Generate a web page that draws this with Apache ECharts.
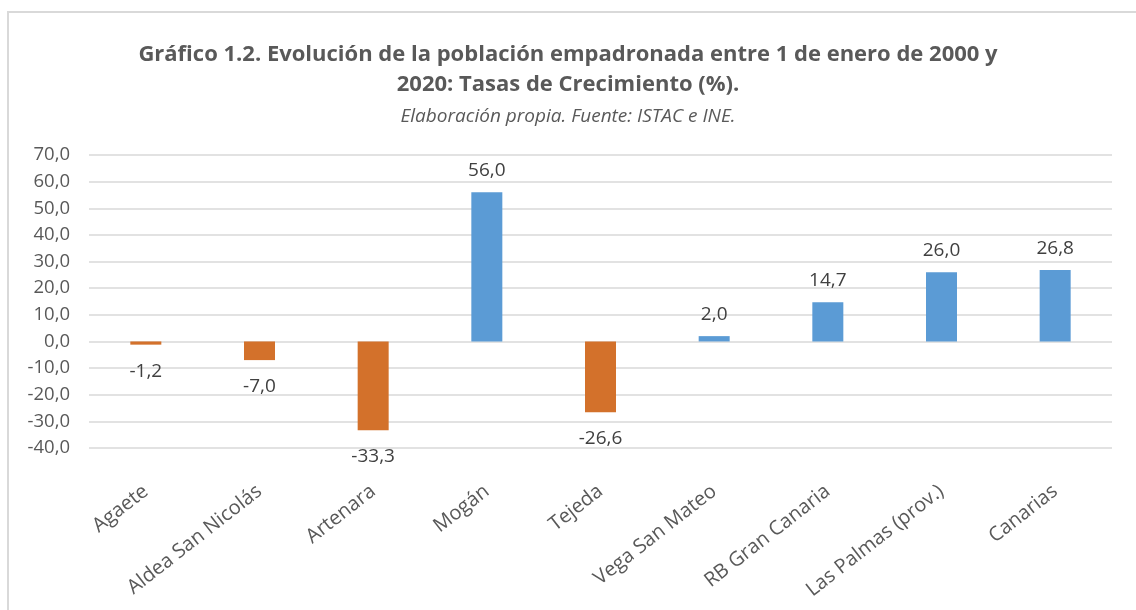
<!DOCTYPE html>
<html>
<head>
<meta charset="utf-8">
<script src="https://cdn.jsdelivr.net/npm/echarts@6/dist/echarts.min.js"></script>
<style>
  body { margin: 0; background: #fff; }
  #frame {
    position: absolute;
    left: 7px;
    top: 11px;
    right: 0;
    bottom: 0;
    border-left: 2px solid #d9d9d9;
    border-top: 2px solid #d9d9d9;
  }
  #chart {
    position: absolute;
    left: 0;
    top: 0;
    width: 1136px;
    height: 610px;
  }
</style>
</head>
<body>
<div id="frame"></div>
<div id="chart"></div>
<script>
const categories = ['Agaete', 'Aldea San Nicolás', 'Artenara', 'Mogán', 'Tejeda', 'Vega San Mateo', 'RB Gran Canaria', 'Las Palmas (prov.)', 'Canarias']
const growth = [-1.2, -7.0, -33.3, 56.0, -26.6, 2.0, 14.7, 26.0, 26.8]

const fmt = (v) => v.toFixed(1).replace('.', ',')

const chart = echarts.init(document.getElementById('chart'))
const option = {
  backgroundColor: 'transparent',
  textStyle: {
    fontFamily: 'Open Sans',
  },
  title: {
    text: 'Gráfico 1.2. Evolución de la población empadronada entre 1 de enero de 2000 y\n2020: Tasas de Crecimiento (%).',
    subtext: 'Elaboración propia. Fuente: ISTAC e INE.',
    left: 'center',
    top: 35,
    itemGap: 5,
    textStyle: {
      fontFamily: 'Open Sans',
      fontWeight: 'bold',
      fontSize: 22,
      lineHeight: 30,
      color: '#595959',
    },
    subtextStyle: {
      fontFamily: 'Open Sans',
      fontStyle: 'italic',
      fontSize: 19,
      lineHeight: 24,
      color: '#595959',
    },
  },
  grid: {
    left: 89,
    right: 24,
    top: 155,
    bottom: 162,
  },
  xAxis: {
    type: 'category',
    data: categories,
    axisLine: { show: false, onZero: false },
    axisTick: { show: false },
    axisLabel: {
      rotate: 38,
      margin: 41,
      interval: 0,
      fontSize: 20,
      color: '#595959',
    },
  },
  yAxis: {
    type: 'value',
    min: -40,
    max: 70,
    interval: 10,
    axisLine: { show: false },
    axisTick: { show: false },
    axisLabel: {
      margin: 19,
      fontSize: 18.5,
      color: '#595959',
      formatter: (v) => fmt(v),
    },
    splitLine: {
      lineStyle: { color: '#d9d9d9', width: 1.5 },
    },
  },
  series: [
    {
      type: 'bar',
      barWidth: 31,
      data: growth.map((v) => ({
        value: v,
        itemStyle: { color: v < 0 ? '#D3712B' : '#5B9BD5' },
        label: { position: v < 0 ? 'bottom' : 'top', distance: v < 0 ? 17 : 12 },
      })),
      label: {
        show: true,
        fontSize: 19,
        color: '#404040',
        formatter: (p) => fmt(p.value),
      },
    },
  ],
}
chart.setOption(option)
</script>
</body>
</html>
